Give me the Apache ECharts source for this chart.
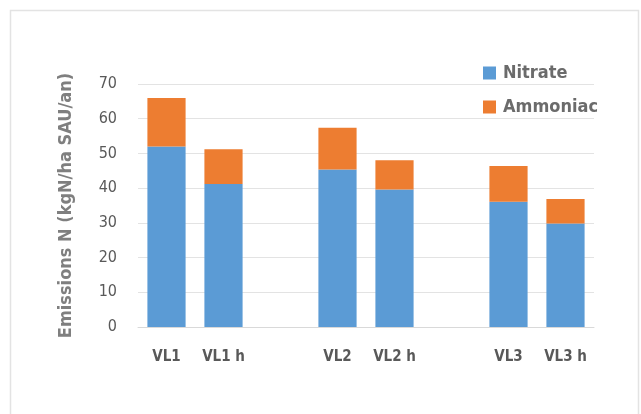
<!DOCTYPE html>
<html><head><meta charset="utf-8">
<script src="https://cdn.jsdelivr.net/npm/echarts@6/dist/echarts.min.js"></script>
<style>html,body{margin:0;padding:0;background:#fff}#c{width:641px;height:414px}</style>
</head><body><div id="c"></div>
<script>
const categories = ['VL1', 'VL1 h', ' ', 'VL2', 'VL2 h', '  ', 'VL3', 'VL3 h'];
const nitrate = [52, 41.2, null, 45.4, 39.6, null, 36.1, 29.8];
const ammoniac = [14, 10, null, 12, 8.4, null, 10.3, 7.1];
const yTicks = [0, 10, 20, 30, 40, 50, 60, 70];

const FONT = '"DejaVu Sans Condensed", "Liberation Sans Narrow", "Open Sans", sans-serif';
const chart = echarts.init(document.getElementById('c'));
chart.setOption({
  animation: false,
  graphic: [{
    type: 'rect', shape: {x: 10.5, y: 10.5, width: 628, height: 420},
    style: {fill: 'none', stroke: '#e3e3e3', lineWidth: 1.5}, z: -1
  }],
  legend: {
    data: ['Nitrate', 'Ammoniac'],
    orient: 'vertical', left: 478, top: 58,
    itemWidth: 13, itemHeight: 13, itemGap: 14,
    icon: 'rect',
    textStyle: {fontFamily: FONT, fontWeight: 'bold', fontSize: 18, lineHeight: 20, color: '#6b6b6b', padding: [0, 0, 0, 2]}
  },
  grid: {left: 138, right: 47, top: 84, bottom: 87},
  xAxis: {
    type: 'category', data: categories,
    axisTick: {show: false},
    axisLine: {lineStyle: {color: '#d9d9d9'}},
    axisLabel: {fontFamily: FONT, fontWeight: 'bold', fontSize: 15, color: '#595959', margin: 23, interval: 0}
  },
  yAxis: {
    type: 'value', min: 0, max: 70, interval: 10,
    name: 'Emissions N (kgN/ha SAU/an)', nameLocation: 'middle', nameGap: 63,
    nameTextStyle: {fontFamily: FONT, fontWeight: 'bold', fontSize: 18, color: '#7f7f7f'},
    axisLine: {show: false}, axisTick: {show: false},
    splitLine: {lineStyle: {color: '#e3e3e3', width: 1}},
    axisLabel: {fontFamily: FONT, fontSize: 16, color: '#595959', margin: 21,
      formatter: v => yTicks.includes(v) ? String(v) : ''}
  },
  series: [
    {name: 'Nitrate', type: 'bar', stack: 's', data: nitrate, barWidth: '67%',
     itemStyle: {color: '#5B9BD5'}},
    {name: 'Ammoniac', type: 'bar', stack: 's', data: ammoniac, barWidth: '67%',
     itemStyle: {color: '#ED7D31'}}
  ]
});
</script></body></html>
